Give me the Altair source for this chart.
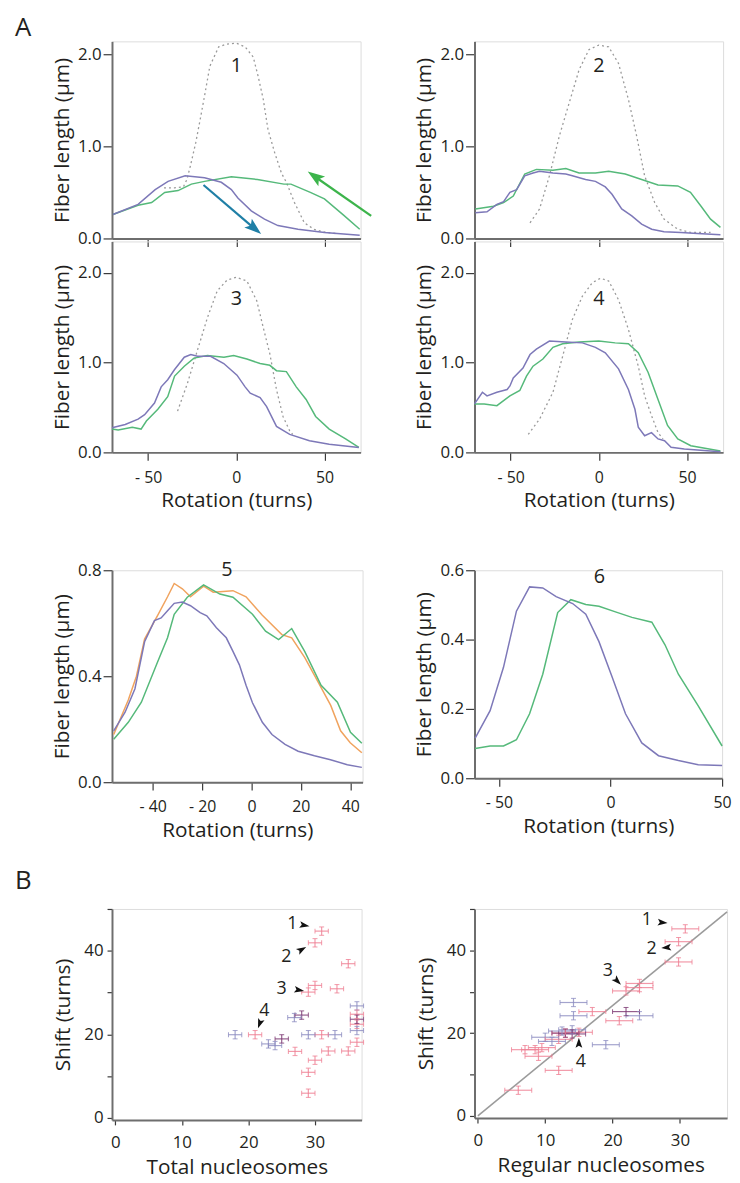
import altair as alt
import pandas as pd

FONT = "Open Sans"
TXT = "#231f20"
PURPLE = "#7d78b8"
GREEN = "#55b97a"
ORANGE = "#f0a35e"
DOT = "#9a9a9a"
PINK = "#ef7f93"
LAV = "#8c8cc0"
DARK = "#7a3670"

# ---------------- Panel 1 ----------------
p1_purple_x = [-70, -55.7, -46, -38.7, -29, -18, -8.5, -2.8, 0.9, 8.5, 16, 23.6, 35, 50, 70]
p1_purple_y = [0.26, 0.37, 0.53, 0.62, 0.68, 0.66, 0.61, 0.53, 0.44, 0.30, 0.21, 0.14, 0.10, 0.065, 0.036]
p1_green_x = [-70, -55.7, -48, -40.6, -33, -25.5, -18, -2.8, 12, 27, 31, 42, 50, 61, 70]
p1_green_y = [0.26, 0.36, 0.39, 0.50, 0.52, 0.59, 0.62, 0.67, 0.64, 0.59, 0.59, 0.50, 0.43, 0.25, 0.10]
p1_dot_x = [-41, -35, -30, -28, -26, -23, -20.5, -17.7, -15, -10, -5.5, 0, 5, 9.6, 12.4, 15.3, 18, 21.8, 25.6, 28.4, 33, 38.6, 44, 50, 57.6]
p1_dot_y = [0.55, 0.55, 0.56, 0.64, 0.79, 1.04, 1.29, 1.58, 1.87, 2.08, 2.11, 2.12, 2.08, 1.97, 1.76, 1.51, 1.18, 0.93, 0.71, 0.61, 0.39, 0.17, 0.10, 0.07, 0.05]
p1_arrow_x = [-18.6, 76.5]
p1_arrow_y = [0.58, 0.245]
p1_arrow_hx = [10.2, 44.7]
p1_arrow_hy = [0.11, 0.67]
p1_arrow_angle = [130, 305]
p1_arrow_color = ["#1f7fa6", "#3cb44b"]

# ---------------- Panel 2 ----------------
p2_purple_x = [-70, -63.4, -57.8, -54, -50.4, -46.6, -42, -37.3, -33.6, -26, -18.7, -15, -7.5, -1.9, 3.7, 7.5, 13, 18.7, 24.3, 30, 37, 46.6, 56, 69]
p2_purple_y = [0.28, 0.29, 0.37, 0.40, 0.50, 0.53, 0.68, 0.71, 0.73, 0.71, 0.70, 0.68, 0.64, 0.62, 0.56, 0.48, 0.32, 0.245, 0.155, 0.10, 0.072, 0.065, 0.054, 0.04]
p2_green_x = [-70, -59.7, -54, -48.5, -42, -35.4, -26, -18.7, -11.2, -1.9, 5.6, 15, 24.3, 33.6, 44.8, 52, 58, 63.4, 69]
p2_green_y = [0.32, 0.35, 0.39, 0.46, 0.70, 0.75, 0.74, 0.76, 0.71, 0.71, 0.73, 0.70, 0.64, 0.58, 0.57, 0.50, 0.35, 0.21, 0.12]
p2_dot_x = [-39, -33.6, -28, -22.4, -16.8, -11.2, -5.6, 0, 5.6, 11.2, 16.8, 21.5, 26, 31.7, 37, 44.8, 52, 63.4]
p2_dot_y = [0.17, 0.32, 0.68, 1.11, 1.47, 1.83, 2.05, 2.10, 2.08, 1.90, 1.51, 1.11, 0.68, 0.39, 0.21, 0.10, 0.065, 0.065]

# ---------------- Panel 3 ----------------
p3_purple_x = [-70.5, -63, -55.7, -52, -46.4, -42.6, -38.9, -35.1, -29.5, -25.8, -22, -14.6, -7.1, 0.4, 5, 7.9, 13.5, 17.2, 22.8, 30.3, 41.5, 52.7, 69.5]
p3_purple_y = [0.275, 0.31, 0.37, 0.42, 0.55, 0.73, 0.81, 0.92, 1.06, 1.09, 1.07, 1.07, 0.99, 0.86, 0.73, 0.66, 0.61, 0.51, 0.29, 0.20, 0.13, 0.09, 0.055]
p3_green_x = [-70.5, -67, -59, -54, -51, -44.5, -38.9, -35, -29.5, -24, -16.4, -7, -1.5, 6, 13.5, 19, 22.8, 28.4, 34, 39.6, 45, 52.7, 62, 69.5]
p3_green_y = [0.26, 0.25, 0.28, 0.26, 0.35, 0.48, 0.62, 0.85, 0.96, 1.05, 1.08, 1.06, 1.08, 1.04, 0.99, 0.97, 0.91, 0.90, 0.73, 0.59, 0.40, 0.26, 0.15, 0.055]
p3_dot_x = [-33.3, -27.7, -22, -16.4, -10.8, -5.2, 0, 6, 11.6, 15.3, 19, 22.8, 26.5, 30.3, 32]
p3_dot_y = [0.46, 0.77, 1.14, 1.50, 1.80, 1.92, 1.95, 1.91, 1.69, 1.39, 1.10, 0.70, 0.40, 0.24, 0.20]

# ---------------- Panel 4 ----------------
p4_purple_x = [-70.5, -66, -63.4, -57.8, -52, -50.4, -48.5, -43, -39, -35.4, -28, -18.7, -9.3, -1.9, 3.7, 11.2, 16.8, 20.5, 22.4, 26, 29.9, 33.6, 37.3, 41, 48.5, 69]
p4_purple_y = [0.54, 0.67, 0.63, 0.67, 0.70, 0.74, 0.83, 0.94, 1.09, 1.15, 1.24, 1.23, 1.22, 1.17, 1.11, 0.93, 0.70, 0.48, 0.28, 0.185, 0.22, 0.15, 0.13, 0.056, 0.037, 0.007]
p4_green_x = [-70.5, -65, -57.8, -50.4, -44.8, -41, -37.3, -31.7, -26, -20.5, -11.2, 0, 9.3, 16.8, 22.4, 28, 33.6, 39, 44.8, 52.2, 69]
p4_green_y = [0.54, 0.54, 0.52, 0.63, 0.69, 0.85, 0.96, 1.04, 1.17, 1.21, 1.23, 1.24, 1.22, 1.21, 1.11, 0.89, 0.59, 0.30, 0.15, 0.074, 0.015]
p4_dot_x = [-40, -33.6, -26, -20.5, -15, -9.3, -3.7, 1, 5.6, 11.2, 16.8, 22.4, 26, 29.9, 33.6, 36.4]
p4_dot_y = [0.20, 0.37, 0.67, 1.07, 1.48, 1.74, 1.89, 1.94, 1.91, 1.70, 1.37, 0.96, 0.63, 0.41, 0.22, 0.15]

# ---------------- Panel 5 ----------------
p5_purple_x = [-55.8, -51.2, -47.2, -43.3, -39.3, -36.6, -34, -31.3, -28, -24.7, -20.8, -18.1, -14.2, -10.2, -7.5, -4.9, -2.2, 0.4, 4.4, 8.3, 13.6, 18.9, 25.5, 32, 38.8, 44.7]
p5_purple_y = [0.194, 0.264, 0.353, 0.53, 0.61, 0.62, 0.647, 0.675, 0.68, 0.666, 0.64, 0.628, 0.583, 0.545, 0.494, 0.443, 0.366, 0.30, 0.226, 0.18, 0.143, 0.117, 0.10, 0.085, 0.066, 0.056]
p5_orange_x = [-55.8, -49.9, -46.6, -43.3, -38, -34, -31.3, -28, -24.7, -19.4, -15.5, -7.5, -2.2, 4.4, 12.3, 16.3, 21.6, 26.9, 32.1, 36.1, 40, 44.7]
p5_orange_y = [0.18, 0.31, 0.40, 0.54, 0.63, 0.70, 0.75, 0.73, 0.70, 0.74, 0.717, 0.723, 0.70, 0.63, 0.557, 0.545, 0.47, 0.38, 0.29, 0.194, 0.149, 0.111]
p5_green_x = [-55.8, -49.9, -44.6, -38, -34, -31.3, -26, -19.4, -12.8, -7.5, 0.4, 5.7, 11, 16.3, 21.6, 28.2, 34.8, 40.1, 44.7]
p5_green_y = [0.162, 0.226, 0.302, 0.455, 0.545, 0.634, 0.698, 0.745, 0.71, 0.698, 0.634, 0.57, 0.538, 0.58, 0.493, 0.366, 0.302, 0.188, 0.147]

# ---------------- Panel 6 ----------------
p6_purple_x = [-60.7, -54, -48, -42.2, -36.3, -30.4, -24.4, -17, -11.1, -5.2, 0.7, 6.7, 14, 21.5, 30.4, 39.3, 50]
p6_purple_y = [0.116, 0.195, 0.32, 0.482, 0.552, 0.549, 0.524, 0.504, 0.473, 0.394, 0.292, 0.186, 0.102, 0.065, 0.051, 0.039, 0.037]
p6_green_x = [-60.7, -54, -48, -42.2, -36.3, -30.4, -23.7, -17.8, -11.1, -5.2, 2.2, 9.6, 18.5, 24.4, 30.4, 39.3, 50]
p6_green_y = [0.086, 0.093, 0.093, 0.111, 0.186, 0.30, 0.478, 0.515, 0.501, 0.496, 0.48, 0.464, 0.45, 0.385, 0.30, 0.209, 0.093]

# ---------------- Panel B (left: total nucleosomes) ----------------
bl_pink_x = [31, 30, 35, 30, 29, 33.3, 21, 27, 31, 30, 32, 29, 29, 35, 36.3, 36.3, 36.3]
bl_pink_y = [44.7, 41.9, 36.9, 31.7, 30.1, 30.9, 19.9, 15.9, 19.9, 13.8, 16, 10.9, 5.9, 16, 18.1, 24.8, 22.4]
bl_lav_x = [26.9, 18, 23, 24, 29, 33, 36.3, 36.3]
bl_lav_y = [24, 19.9, 17.7, 17.3, 19.9, 19.9, 26.8, 20.9]
bl_dark_x = [28, 25, 36.3]
bl_dark_y = [24.6, 18.9, 23.6]
bl_xerr = 1.0
bl_yerr = 1.0
bl_note_text = ["1", "2", "3", "4"]
bl_note_x = [26.6, 25.7, 25.0, 22.4]
bl_note_y = [46.5, 38.6, 30.9, 25.6]
bl_head_x = [28.4, 28.0, 27.6, 21.7]
bl_head_y = [46.1, 40.3, 30.6, 22.6]
bl_head_angle = [100, 60, 100, 200]

# ---------------- Panel B (right: regular nucleosomes) ----------------
br_pink_x = [30.8, 29.8, 29.8, 24, 22, 24, 21, 17, 13, 15, 12, 7, 8.5, 9, 9.5, 12, 6]
br_pink_y = [45.2, 42.1, 37.2, 32, 30.2, 31, 23, 25.2, 20, 20.2, 18.5, 16, 16, 14.4, 16.5, 11, 6.2]
br_lav_x = [14.2, 14.2, 24, 19, 12.5, 14, 10, 11]
br_lav_y = [27.4, 24.2, 24.2, 17.2, 20.5, 20.8, 19, 18]
br_dark_x = [22, 14, 13]
br_dark_y = [25.2, 19.8, 20]
br_xerr = 2.0
br_yerr = 1.0
br_line_x = [0, 37]
br_line_y = [0, 49.3]
br_note_text = ["1", "2", "3", "4"]
br_note_x = [25.1, 25.8, 19.3, 15.3]
br_note_y = [47.3, 40.4, 35.0, 13.0]
br_head_x = [27.4, 28.0, 20.7, 15.0]
br_head_y = [46.7, 40.7, 32.6, 17.6]
br_head_angle = [95, 265, 135, 0]

DART = "M0,-1L0.65,0.9L0,0.5L-0.65,0.9Z"

AXC = dict(domainColor="#6e6e6e", domainWidth=2, tickColor="#3a3a3a", tickWidth=1.2,
           labelFont=FONT, labelColor=TXT, titleFont=FONT, titleColor=TXT,
           titleFontWeight="normal", grid=False, labelFlush=False, labelOverlap=False)
NEG = "datum.value < 0 ? '- ' + abs(datum.value) : datum.label"


def x_axis_top():
    return alt.Axis(values=[-50, 0, 50], labels=False, title=None, tickSize=8, **AXC)


def x_axis_rot(values):
    return alt.Axis(values=values, title="Rotation (turns)", tickSize=8, labelPadding=9,
                    labelFontSize=16, titleFontSize=21, titlePadding=5, labelExpr=NEG, **AXC)


def y_axis_fiber(values):
    return alt.Axis(values=values, format=".1f", title="Fiber length (µm)", tickSize=9,
                    labelPadding=2, labelFontSize=17, titleFontSize=21, titlePadding=5, **AXC)


def line_panel(series, xdom, ydom, xaxis, yaxis, w, h, num, num_x, num_y, extra=None, title=None):
    xs = alt.Scale(domain=xdom, nice=False, zero=False)
    ys = alt.Scale(domain=ydom, nice=False, zero=False)
    layers = []
    for xv, yv, color, dash in series:
        df = pd.DataFrame({"x": xv, "y": yv})
        kw = dict(color=color, strokeWidth=1.5)
        if dash:
            kw["strokeDash"] = dash
            kw["strokeWidth"] = 1.3
        layers.append(alt.Chart(df).mark_line(**kw).encode(
            x=alt.X("x:Q", scale=xs, axis=xaxis), y=alt.Y("y:Q", scale=ys, axis=yaxis)))
    tdf = pd.DataFrame({"x": [num_x], "y": [num_y], "t": [num]})
    layers.append(alt.Chart(tdf).mark_text(font=FONT, fontSize=20, color=TXT).encode(
        x=alt.X("x:Q", scale=xs), y=alt.Y("y:Q", scale=ys), text="t:N"))
    if extra is not None:
        layers.extend(extra(xs, ys))
    props = dict(width=w, height=h)
    if title is not None:
        props["title"] = title
    return alt.layer(*layers).properties(**props)


def p1_arrows(xs, ys):
    df = pd.DataFrame({"x": p1_arrow_x, "y": p1_arrow_y, "hx": p1_arrow_hx, "hy": p1_arrow_hy,
                       "a": p1_arrow_angle, "c": p1_arrow_color})
    rule = alt.Chart(df).mark_rule(strokeWidth=2.2).encode(
        x=alt.X("x:Q", scale=xs), y=alt.Y("y:Q", scale=ys), x2="hx:Q", y2="hy:Q",
        color=alt.Color("c:N", scale=None))
    head = alt.Chart(df).mark_point(shape=DART, filled=True, size=330, opacity=1).encode(
        x=alt.X("hx:Q", scale=xs), y=alt.Y("hy:Q", scale=ys),
        angle=alt.Angle("a:Q", scale=None), color=alt.Color("c:N", scale=None))
    return [rule, head]


def scatter_panel(groups, xerr, yerr, xtitle, w, h, notes, heads, diag=None, title=None):
    xs = alt.Scale(domain=[-0.5, 37], nice=False, zero=False)
    ys = alt.Scale(domain=[-0.5, 50], nice=False, zero=False)
    xa = alt.Axis(values=[0, 10, 20, 30], title=xtitle, tickSize=5, labelPadding=10,
                  labelFontSize=17, titleFontSize=21, titlePadding=6, **AXC)
    ya = alt.Axis(values=[0, 10, 20, 30, 40, 50], title="Shift (turns)", tickSize=5, labelPadding=4,
                  labelExpr="datum.value % 20 == 0 ? datum.label : ''",
                  labelFontSize=17, titleFontSize=21, titlePadding=10, **AXC)
    rows = []
    for gx, gy, g in groups:
        for a, b in zip(gx, gy):
            rows.append({"x": a, "y": b, "g": g})
    df = pd.DataFrame(rows)
    col = alt.Color("g:N", scale=alt.Scale(domain=["pink", "lav", "dark"], range=[PINK, LAV, DARK]), legend=None)
    base = alt.Chart(df).transform_calculate(
        xl=f"datum.x - {xerr}", xh=f"datum.x + {xerr}", yl=f"datum.y - {yerr}", yh=f"datum.y + {yerr}")
    layers = []
    if diag is not None:
        ddf = pd.DataFrame({"x": diag[0], "y": diag[1]})
        layers.append(alt.Chart(ddf).mark_line(color="#9b9b9b", strokeWidth=1.6).encode(
            x=alt.X("x:Q", scale=xs, axis=xa), y=alt.Y("y:Q", scale=ys, axis=ya)))
    op = 0.8
    layers.append(base.mark_rule(strokeWidth=1.2, opacity=op).encode(
        x=alt.X("xl:Q", scale=xs, axis=xa), x2="xh:Q", y=alt.Y("y:Q", scale=ys, axis=ya), color=col))
    layers.append(base.mark_rule(strokeWidth=1.2, opacity=op).encode(
        x=alt.X("x:Q", scale=xs), y=alt.Y("yl:Q", scale=ys), y2="yh:Q", color=col))
    for f in ["xl", "xh"]:
        layers.append(base.mark_tick(orient="vertical", size=5, thickness=1, opacity=op).encode(
            x=alt.X(f + ":Q", scale=xs), y=alt.Y("y:Q", scale=ys), color=col))
    for f in ["yl", "yh"]:
        layers.append(base.mark_tick(orient="horizontal", size=5, thickness=1, opacity=op).encode(
            x=alt.X("x:Q", scale=xs), y=alt.Y(f + ":Q", scale=ys), color=col))
    ndf = pd.DataFrame({"x": notes[1], "y": notes[2], "t": notes[0]})
    layers.append(alt.Chart(ndf).mark_text(font=FONT, fontSize=18, color=TXT).encode(
        x=alt.X("x:Q", scale=xs), y=alt.Y("y:Q", scale=ys), text="t:N"))
    hdf = pd.DataFrame({"x": heads[0], "y": heads[1], "a": heads[2]})
    layers.append(alt.Chart(hdf).mark_point(shape=DART, filled=True, size=110, color="#111", opacity=1).encode(
        x=alt.X("x:Q", scale=xs), y=alt.Y("y:Q", scale=ys), angle=alt.Angle("a:Q", scale=None)))
    props = dict(width=w, height=h)
    if title is not None:
        props["title"] = title
    return alt.layer(*layers).properties(**props)


def spacer(h):
    return alt.Chart(pd.DataFrame({"v": [0]})).mark_text(text=" ", opacity=0).encode(
        x=alt.value(0), y=alt.value(0)).properties(
        width=1, height=h, view=alt.ViewBackground(stroke="transparent", fill="transparent", strokeWidth=0))


DOTS = [2, 3]
RX = [-70.5, 70.5]

titleA = alt.TitleParams("A", anchor="start", frame="group", dx=-98, offset=-21, fontSize=26,
                         font=FONT, fontWeight="normal", color=TXT, baseline="alphabetic")
titleB = alt.TitleParams("B", anchor="start", frame="group", dx=-98, offset=-15, fontSize=26,
                         font=FONT, fontWeight="normal", color=TXT, baseline="alphabetic")

p1 = line_panel([(p1_dot_x, p1_dot_y, DOT, DOTS), (p1_green_x, p1_green_y, GREEN, None),
                 (p1_purple_x, p1_purple_y, PURPLE, None)],
                RX, [0, 2.14], x_axis_top(), y_axis_fiber([0, 1, 2]), 251, 199, "1", 0, 1.87,
                extra=p1_arrows, title=titleA)
p2 = line_panel([(p2_dot_x, p2_dot_y, DOT, DOTS), (p2_green_x, p2_green_y, GREEN, None),
                 (p2_purple_x, p2_purple_y, PURPLE, None)],
                RX, [0, 2.14], x_axis_top(), y_axis_fiber([0, 1, 2]), 251, 199, "2", 0, 1.87)
p3 = line_panel([(p3_dot_x, p3_dot_y, DOT, DOTS), (p3_green_x, p3_green_y, GREEN, None),
                 (p3_purple_x, p3_purple_y, PURPLE, None)],
                RX, [0, 2.35], x_axis_rot([-50, 0, 50]), y_axis_fiber([0, 1, 2]), 251, 213, "3", 0, 1.71)
p4 = line_panel([(p4_dot_x, p4_dot_y, DOT, DOTS), (p4_green_x, p4_green_y, GREEN, None),
                 (p4_purple_x, p4_purple_y, PURPLE, None)],
                RX, [0, 2.35], x_axis_rot([-50, 0, 50]), y_axis_fiber([0, 1, 2]), 251, 213, "4", 0, 1.71)
p5 = line_panel([(p5_orange_x, p5_orange_y, ORANGE, None), (p5_green_x, p5_green_y, GREEN, None),
                 (p5_purple_x, p5_purple_y, PURPLE, None)],
                [-56.5, 45], [0, 0.8], x_axis_rot([-40, -20, 0, 20, 40]), y_axis_fiber([0, 0.4, 0.8]),
                253, 214, "5", -10, 0.80)
p6 = line_panel([(p6_green_x, p6_green_y, GREEN, None), (p6_purple_x, p6_purple_y, PURPLE, None)],
                [-61, 50], [0, 0.6], x_axis_rot([-50, 0, 50]), y_axis_fiber([0, 0.2, 0.4, 0.6]),
                250, 210, "6", -5, 0.58)

pb1 = scatter_panel([(bl_pink_x, bl_pink_y, "pink"), (bl_lav_x, bl_lav_y, "lav"), (bl_dark_x, bl_dark_y, "dark")],
                    bl_xerr, bl_yerr, "Total nucleosomes", 252, 213,
                    (bl_note_text, bl_note_x, bl_note_y), (bl_head_x, bl_head_y, bl_head_angle), title=titleB)
pb2 = scatter_panel([(br_pink_x, br_pink_y, "pink"), (br_lav_x, br_lav_y, "lav"), (br_dark_x, br_dark_y, "dark")],
                    br_xerr, br_yerr, "Regular nucleosomes", 255, 211,
                    (br_note_text, br_note_x, br_note_y), (br_head_x, br_head_y, br_head_angle),
                    diag=(br_line_x, br_line_y))

chart = alt.concat(p1, p2, p3, p4, spacer(113), spacer(113), p5, p6, spacer(122), spacer(122), pb1, pb2,
                   columns=2, spacing={"row": 3, "column": 113}).properties(
    align="none", bounds="flush", padding={"left": 6, "top": 0, "right": 0, "bottom": 0}
).configure_view(strokeWidth=0).configure(background="white")

chart.save("out.html", embed_options={"renderer": "svg", "actions": False})
